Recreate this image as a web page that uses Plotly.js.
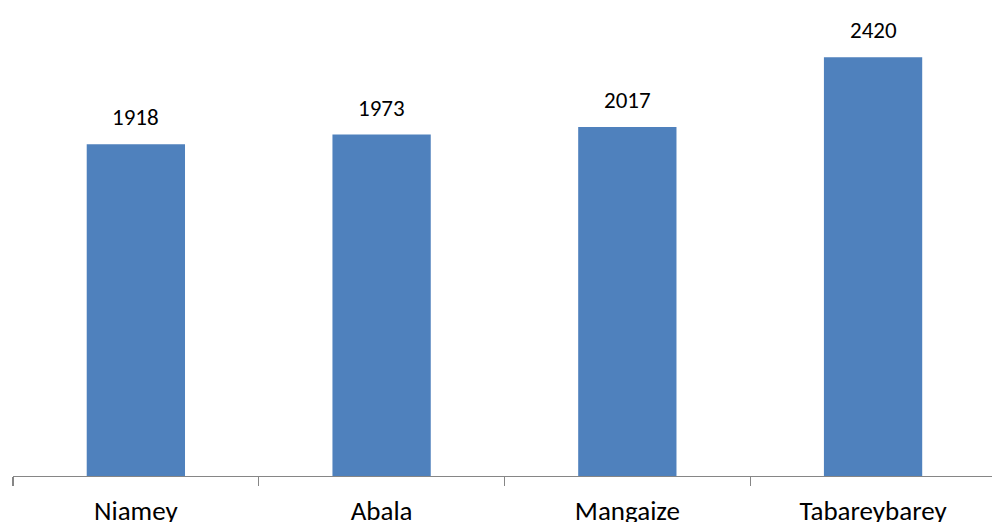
<!DOCTYPE html>
<html>
<head>
<meta charset="utf-8">
<script src="https://cdn.plot.ly/plotly-3.0.1.min.js"></script>
<style>html,body{margin:0;padding:0;background:#fff;}#chart{width:992px;height:522px;}</style>
</head>
<body>
<div id="chart"></div>
<script>
var categories = ["Niamey", "Abala", "Mangaize", "Tabareybarey"];
var values = [1918, 1973, 2017, 2420];
var valueLabels = ["1918", "1973", "2017", "2420"];

var FONT = "Carlito, Calibri, Lato, sans-serif";

var trace = {
  type: "bar",
  x: categories,
  y: values,
  width: 0.4,
  marker: {color: "#4F81BD"},
  hoverinfo: "x+y"
};

var annotations = categories.map(function (c, i) {
  return {
    x: c, y: values[i], text: valueLabels[i],
    xref: "x", yref: "y", showarrow: false,
    yanchor: "bottom", yshift: 11,
    font: {family: FONT, size: 23, color: "#000"}
  };
});

var layout = {
  width: 992, height: 522,
  margin: {l: 13, r: 0, t: 0, b: 46, pad: 0},
  paper_bgcolor: "#fff", plot_bgcolor: "#fff",
  showlegend: false,
  xaxis: {
    type: "category",
    range: [-0.5, 3.484],
    showline: true, linecolor: "#868686", linewidth: 1.3,
    ticks: "outside", tickson: "boundaries", ticklen: 9, tickcolor: "#868686", tickwidth: 1.3,
    showgrid: false, zeroline: false,
    ticklabelstandoff: 10,
    tickfont: {family: FONT, size: 27, color: "#000"}
  },
  yaxis: {
    range: [0, 2751],
    visible: false, showgrid: false, zeroline: false
  },
  annotations: annotations
};

Plotly.newPlot("chart", [trace], layout, {displayModeBar: false, staticPlot: true});
</script>
</body>
</html>
